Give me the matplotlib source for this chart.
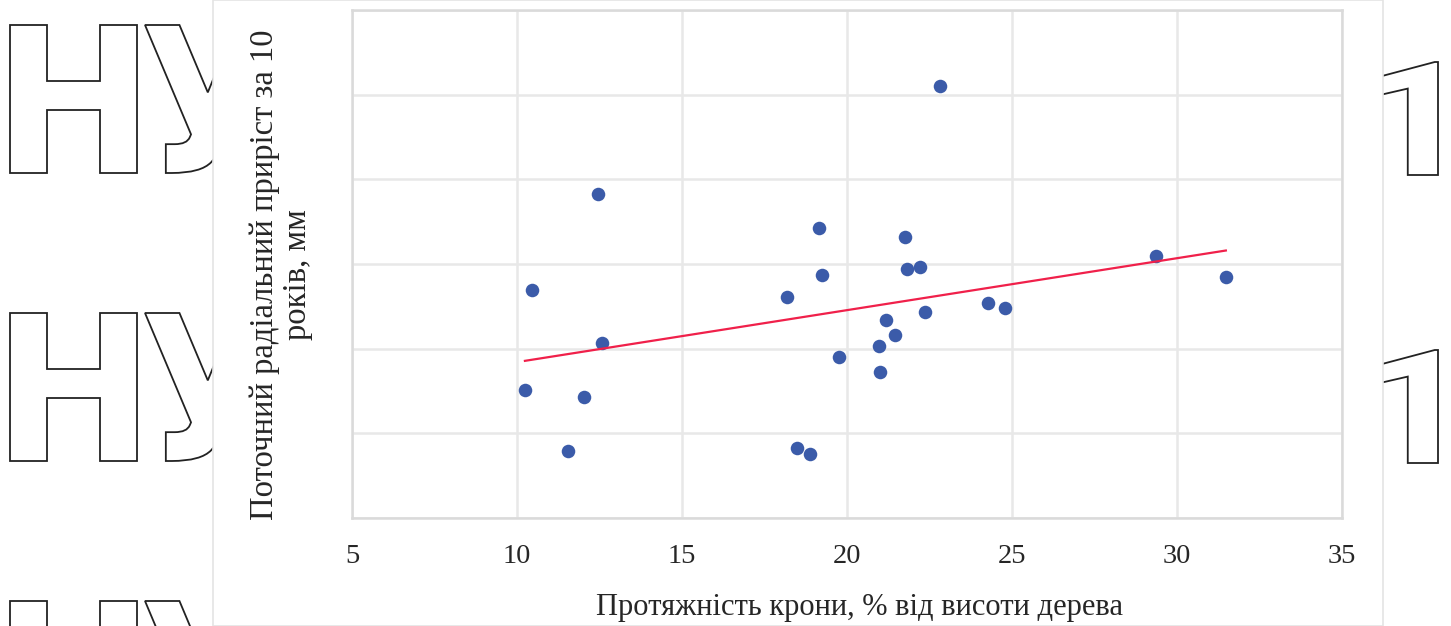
import numpy as np
import matplotlib
matplotlib.use("Agg")
import matplotlib.pyplot as plt
from matplotlib.patches import Rectangle, PathPatch
from matplotlib.textpath import TextPath
from matplotlib.font_manager import FontProperties
from matplotlib.transforms import Affine2D, IdentityTransform

plt.rcParams['font.family'] = ['Liberation Serif', 'DejaVu Serif']

# crown length (% of tree height) vs. 10-year radial increment (mm)
crown_pct = [22.82, 12.45, 19.15, 21.76, 29.36, 21.82, 22.21, 19.24, 31.48,
             10.45, 18.18, 24.27, 24.79, 22.36, 21.18, 21.45, 12.58, 20.97,
             19.76, 21.00, 10.24, 12.03, 18.48, 18.88, 11.55]
increment = [25.49, 19.15, 17.13, 16.60, 15.47, 14.70, 14.82, 14.35, 14.23,
             13.46, 13.04, 12.69, 12.39, 12.15, 11.68, 10.79, 10.31, 10.14,
             9.48, 8.65, 7.53, 7.17, 4.15, 3.79, 3.97]

x_ticks = [5, 10, 15, 20, 25, 30, 35]
y_grid = [0, 5, 10, 15, 20, 25, 30]

x_title = "Протяжність крони, % від висоти дерева"
y_title = "Поточний радіальний приріст за 10\nроків, мм"

W, H = 1451, 626
fig = plt.figure(figsize=(W / 100, H / 100), dpi=100)


def outline_text(s, top, height, family, left=None, right=None, width=None, stretch=1.0):
    # hollow lettering placed by pixel box (top measured from the top edge);
    # without a width the glyph keeps its aspect, widened by `stretch`
    tp = TextPath((0, 0), s, size=100, prop=FontProperties(family=family, weight='bold'))
    ext = tp.get_extents()
    sy = height / ext.height
    sx = width / ext.width if width else sy * stretch
    w = ext.width * sx
    x0 = left if left is not None else right - w
    tr = (Affine2D().translate(-ext.x0, -ext.y0).scale(sx, sy)
          .translate(x0, H - top - height))
    patch = PathPatch(tp, facecolor='white', edgecolor='#222222', lw=1.3,
                      transform=tr + IdentityTransform(), zorder=0)
    fig.patches.append(patch)


for top in [25, 313, 601]:
    outline_text("Н", top, 148, 'DejaVu Sans', left=10, width=127)
    outline_text("У", top, 148, 'DejaVu Sans', left=145, width=125)
for top in [62, 350]:
    outline_text("1", top, 113, 'Roboto', right=1438, stretch=1.35)

# white chart area over the background lettering
fig.patches.append(Rectangle((213 / W, 0), (1383 - 213) / W, 1, transform=fig.transFigure,
                             facecolor='white', edgecolor='#e4e4e4', lw=1.2, zorder=1))

ax = fig.add_axes([352 / W, 1 - 518 / H, (1342 - 352) / W, (518 - 10) / H], zorder=2)
ax.set_facecolor('white')

ax.scatter(crown_pct, increment, s=95, color='#3b5ba9', zorder=3, linewidths=0)

# linear trend through the points
k, b = np.polyfit(crown_pct, increment, 1)
xs = np.array([min(crown_pct), max(crown_pct)])
ax.plot(xs, k * xs + b, color='#f0204a', lw=1.6, zorder=4)

ax.set_xlim(5, 35)
ax.set_ylim(0, 30)
ax.set_xticks(x_ticks)
ax.set_yticks(y_grid)
ax.set_yticklabels([])
ax.grid(True, color='#e8e8e8', lw=1.8, zorder=0)
ax.set_axisbelow(True)
ax.tick_params(length=0, labelsize=20.5, labelcolor='#262626', pad=19)
for sp in ax.spines.values():
    sp.set_color('#dadada')
    sp.set_linewidth(1.8)

fig.text(860 / W, 1 - 607 / H, x_title, fontsize=22, color='#262626',
         ha='center', va='center')
fig.text(281 / W, 1 - 275 / H, y_title, fontsize=23.5, color='#262626',
         ha='center', va='center', rotation=90, multialignment='center',
         linespacing=1.1)

fig.savefig("out.png", dpi=100)
